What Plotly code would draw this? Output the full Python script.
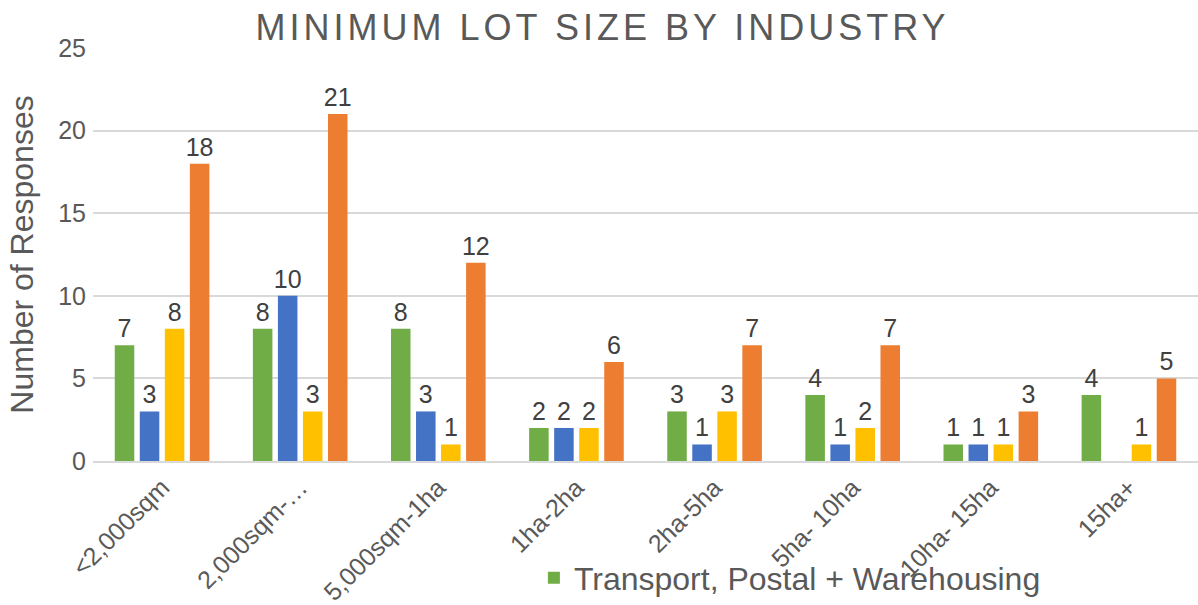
import plotly.graph_objects as go

categories = ["<2,000sqm", "2,000sqm-…", "5,000sqm-1ha", "1ha-2ha", "2ha-5ha",
              "5ha- 10ha", "10ha- 15ha", "15ha+"]
series_names = ["Transport, Postal + Warehousing", "Series 2", "Series 3", "Series 4"]
green_vals = [7, 8, 8, 2, 3, 4, 1, 4]
blue_vals = [3, 10, 3, 2, 1, 1, 1, None]
yellow_vals = [8, 3, 1, 2, 3, 2, 1, 1]
orange_vals = [18, 21, 12, 6, 7, 7, 3, 5]
colors = ["#70AD47", "#4472C4", "#FFC000", "#ED7D31"]

fig = go.Figure()
for i, vals in enumerate([green_vals, blue_vals, yellow_vals, orange_vals]):
    fig.add_trace(go.Bar(
        x=categories, y=vals, name=series_names[i],
        marker=dict(color=colors[i], line=dict(width=0)),
        text=[("" if v is None else str(v)) for v in vals],
        textposition="outside",
        constraintext="none",
        textfont=dict(size=25, color="#404040", family="Liberation Sans, Arial"),
        cliponaxis=False,
        showlegend=(i == 0),
    ))

title_text = "<span style='letter-spacing:4px'>MINIMUM LOT SIZE BY INDUSTRY</span>"

fig.update_layout(
    width=1198, height=605,
    barmode="group", bargap=0.275, bargroupgap=0.22,
    title=dict(text=title_text, x=0.503, xanchor="center",
               y=0.955, yanchor="middle",
               font=dict(size=36, color="#595959", family="Liberation Sans, Arial")),
    font=dict(family="Liberation Sans, Arial", color="#595959"),
    margin=dict(t=48, b=144, l=93, r=0, autoexpand=False),
    plot_bgcolor="white", paper_bgcolor="white",
    legend=dict(orientation="h", x=0.399, xanchor="left", y=-0.283, yanchor="middle",
                font=dict(size=32, color="#595959"), itemsizing="constant",
                bgcolor="rgba(0,0,0,0)"),
)
fig.update_yaxes(range=[0, 25], dtick=5, showgrid=True, gridcolor="#D9D9D9", gridwidth=1.5,
                 zeroline=False, tickfont=dict(size=25, color="#595959"),
                 title=dict(text="Number of Responses", font=dict(size=32, color="#595959"),
                            standoff=14),
                 ticks="", ticklen=0, ticklabelstandoff=6, automargin=False)
fig.update_xaxes(tickangle=-45, tickfont=dict(size=25, color="#595959"),
                 showline=True, linecolor="#D9D9D9", linewidth=2, ticks="",
                 automargin=False)

# drop the default page margin so the figure sits at the window's corner
fig.write_html("out.html", config={"displayModeBar": False},
               post_script="document.body.style.margin='0';")
